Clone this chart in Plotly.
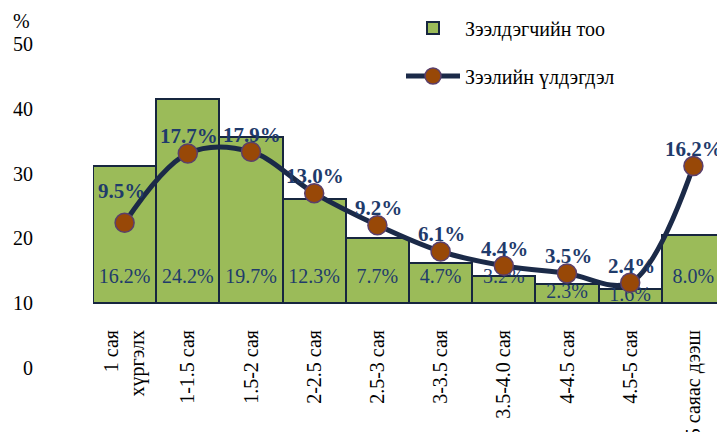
import plotly.graph_objects as go

categories = ["1 сая<br>хүргэлх", "1-1.5 сая", "1.5-2 сая", "2-2.5 сая", "2.5-3 сая",
              "3-3.5 сая", "3.5-4.0 сая", "4-4.5 сая", "4.5-5 сая", "5 саяас дээш"]
borrowers = [16.2, 24.2, 19.7, 12.3, 7.7, 4.7, 3.2, 2.3, 1.6, 8.0]
balance = [9.5, 17.7, 17.9, 13.0, 9.2, 6.1, 4.4, 3.5, 2.4, 16.2]
left_ticks = [0, 10, 20, 30, 40, 50]

FONT = "Liberation Serif"
NAVY = "#1F3B6B"

W, H = 725, 432
OFF = 8  # page body margin offsets the figure


def fx(p):
    return p - OFF


# plot area in page pixels: x 93..725, y 10..392
ML = fx(93)
MR = W - fx(725)
MT = fx(10)
MB = H - fx(392)
plot_h = H - MT - MB
plot_w = W - ML - MR


def py(p):  # page y pixel -> paper fraction
    return 1 - (fx(p) - MT) / plot_h


def px(p):  # page x pixel -> paper fraction
    return (fx(p) - ML) / plot_w


def rng(zero_page_px, px_per_unit):
    z = fx(zero_page_px)
    bottom = -(H - MB - z) / px_per_unit
    top = (z - MT) / px_per_unit
    return [bottom, top]


# label placement inside bar base (Excel "inside base" style)
label_y = [3.0 if v > 2.6 else v / 2 for v in borrowers]

fig = go.Figure()
# invisible trace on the decorative left axis so it is drawn
fig.add_trace(go.Scatter(
    x=[categories[0]] * len(left_ticks), y=left_ticks, mode="markers",
    marker=dict(opacity=0), showlegend=False, hoverinfo="skip", yaxis="y",
))
fig.add_trace(go.Bar(
    x=categories, y=borrowers, name="Зээлдэгчийн тоо",
    marker=dict(color="#9BBB59", line=dict(color="#17263F", width=2)),
    yaxis="y2", legend="legend", hoverinfo="skip",
))
fig.add_trace(go.Scatter(
    x=categories, y=label_y, mode="text",
    text=[f"{v:.1f}%" for v in borrowers],
    textfont=dict(family=FONT, size=20, color=NAVY),
    textposition="middle center", yaxis="y2", showlegend=False, hoverinfo="skip",
))
fig.add_trace(go.Scatter(
    x=categories, y=balance, name="Зээлийн үлдэгдэл",
    mode="lines+markers",
    line=dict(color="#1B2A48", width=5, shape="spline", smoothing=1),
    marker=dict(size=19, color="#984807", line=dict(color="#5B3F6B", width=1.5)),
    yaxis="y2", legend="legend2", hoverinfo="skip",
))

annotations = [dict(
    text="%", xref="paper", yref="paper",
    x=px(11), y=py(21),
    xanchor="left", yanchor="middle", showarrow=False,
    font=dict(family=FONT, size=20, color="black"),
)]
for i, (c, v) in enumerate(zip(categories, balance)):
    shift_y, shift_x = (32, -3) if i == 0 else (17, 1)
    annotations.append(dict(
        x=c, y=v, xref="x", yref="y2", text=f"{v:.1f}%",
        showarrow=False, yshift=shift_y, xshift=shift_x,
        xanchor="center", yanchor="middle",
        font=dict(family=FONT, size=21, color=NAVY, weight="bold"),
    ))

fig.update_layout(
    width=W, height=H,
    margin=dict(l=ML, r=MR, t=MT, b=MB, autoexpand=False),
    paper_bgcolor="white", plot_bgcolor="white",
    font=dict(family=FONT, size=20, color="black"),
    bargap=0,
    xaxis=dict(
        type="category", range=[-0.5, 9.5], automargin=False,
        anchor="free", position=py(303),
        showline=False, showgrid=False, zeroline=False, ticks="",
        tickangle=-90, ticklabelstandoff=22,
        tickfont=dict(family=FONT, size=20, color="black"),
    ),
    yaxis=dict(
        range=rng(368, 6.48), tickvals=left_ticks, automargin=False,
        showline=False, showgrid=False, zeroline=False, ticks="",
        ticklabelstandoff=59,
        tickfont=dict(family=FONT, size=20, color="black"),
    ),
    yaxis2=dict(
        range=rng(303, 8.45), overlaying="y", visible=False, automargin=False,
        showgrid=False, zeroline=False,
    ),
    legend=dict(
        x=px(401), y=py(28), itemwidth=54,
        xanchor="left", yanchor="middle", bgcolor="rgba(0,0,0,0)",
        font=dict(family=FONT, size=20, color="black"),
    ),
    legend2=dict(
        x=px(401), y=py(76), itemwidth=54,
        xanchor="left", yanchor="middle", bgcolor="rgba(0,0,0,0)",
        font=dict(family=FONT, size=20, color="black"),
    ),
    annotations=annotations,
)

fig.write_html("out.html")
